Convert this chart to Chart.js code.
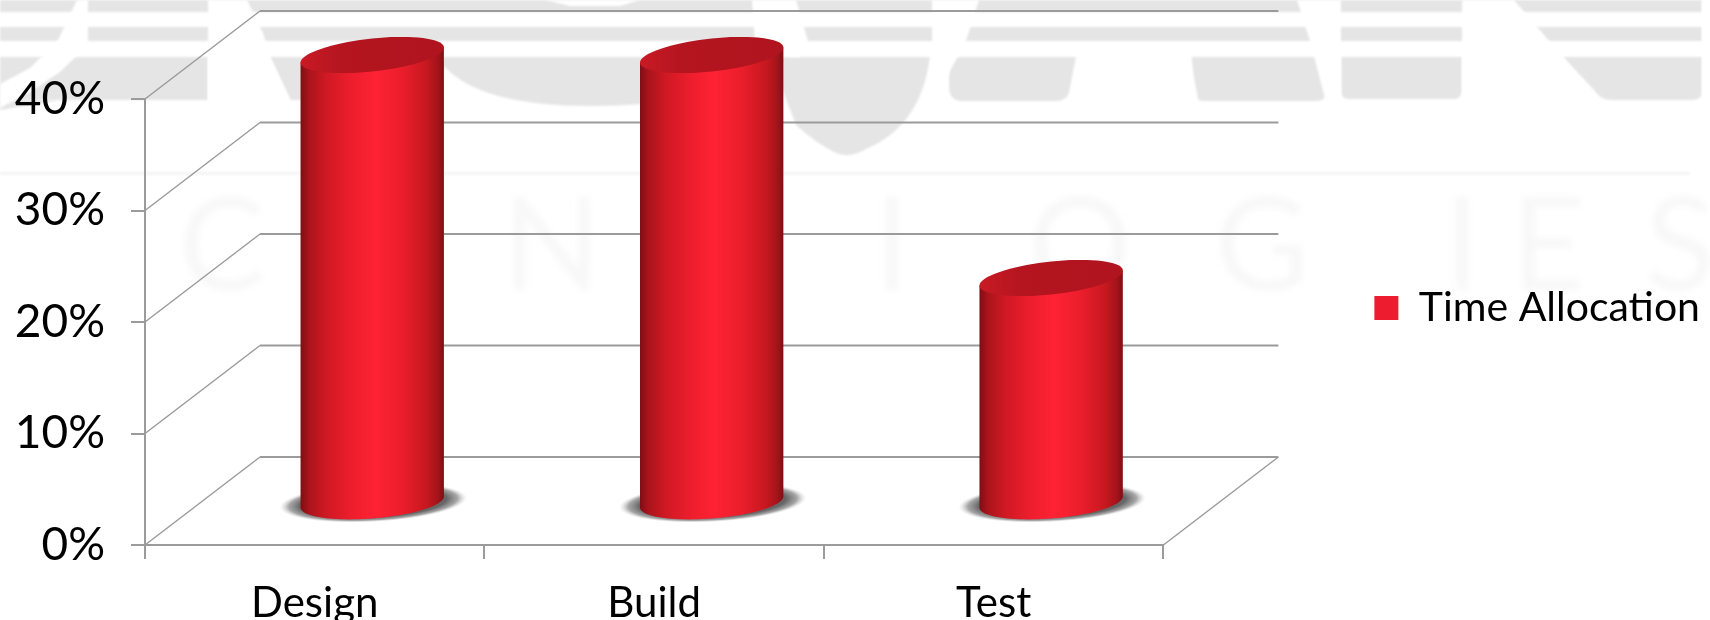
<!DOCTYPE html>
<html>
<head>
<meta charset="utf-8">
<style>html,body{margin:0;padding:0;background:#fff}canvas{display:block}</style>
<script src="https://cdn.jsdelivr.net/npm/chart.js@4/dist/chart.umd.min.js"></script>
</head>
<body>
<canvas id="c" width="1710" height="620"></canvas>
<script>
const categories = ['Design', 'Build', 'Test'];
const seriesName = 'Time Allocation';
const timeAllocation = [40, 40, 20];
const yTicksMax = 40;
const yTickStep = 10;

const LEGEND_RED = '#ED1C2E';
const GRID = '#9b9b9b';
const DEPTH_X = 115, DEPTH_Y = -88;
const FONT = 'Lato, "Open Sans", sans-serif';
const BAND = '#e5e5e5';

function poly(ctx, pts, fill) {
  ctx.fillStyle = fill;
  ctx.beginPath();
  pts.forEach((p, i) => i ? ctx.lineTo(p[0], p[1]) : ctx.moveTo(p[0], p[1]));
  ctx.closePath();
  ctx.fill();
}

function roundedBlock(ctx, x0, x1, x2, bottom, r) {
  ctx.beginPath();
  ctx.moveTo(x0, 57);
  ctx.lineTo(x1, 57);
  ctx.lineTo(x2, bottom - r);
  ctx.quadraticCurveTo(x2 - 1, bottom, x2 - r, bottom);
  ctx.lineTo(x0 + r, bottom);
  ctx.quadraticCurveTo(x0, bottom, x0, bottom - r);
  ctx.closePath();
  ctx.fill();
}

function drawWatermark(ctx) {
  ctx.save();
  ctx.filter = 'blur(0.8px)';
  ctx.fillStyle = BAND;
  ctx.fillRect(0, 0, 1702, 12);
  ctx.fillRect(0, 27, 1702, 14);
  // left block
  ctx.fillRect(0, 57, 208, 43);
  ctx.beginPath();
  ctx.moveTo(0, 100); ctx.lineTo(60, 100); ctx.lineTo(0, 110); ctx.closePath(); ctx.fill();
  // large bowl
  ctx.beginPath();
  ctx.moveTo(270, 57);
  ctx.lineTo(790, 57);
  ctx.lineTo(790, 70);
  ctx.quadraticCurveTo(700, 106, 590, 106);
  ctx.quadraticCurveTo(480, 106, 444, 66);
  ctx.lineTo(440, 100);
  ctx.lineTo(290, 100);
  ctx.closePath();
  ctx.fill();
  // pointed V
  ctx.beginPath();
  ctx.moveTo(770, 57);
  ctx.lineTo(930, 57);
  ctx.quadraticCurveTo(921, 125, 868, 148);
  ctx.quadraticCurveTo(848, 160, 834, 152);
  ctx.quadraticCurveTo(816, 143, 796, 125);
  ctx.closePath();
  ctx.fill();
  // right-hand blocks
  roundedBlock(ctx, 949, 1076, 1070, 101, 14);
  roundedBlock(ctx, 1192, 1322, 1328, 101, 12);
  roundedBlock(ctx, 1341, 1462, 1462, 99, 8);
  ctx.beginPath();
  ctx.moveTo(1563, 57);
  ctx.lineTo(1702, 57);
  ctx.lineTo(1702, 92);
  ctx.quadraticCurveTo(1702, 100, 1692, 100);
  ctx.lineTo(1612, 100);
  ctx.quadraticCurveTo(1600, 100, 1594, 90);
  ctx.closePath();
  ctx.fill();
  // white strokes that cut the bands
  const cuts = [
    [[77,0],[88,0],[88,45],[60,72],[30,92],[0,108],[0,84],[30,68],[58,40]],
    [[208,0],[247,0],[263,33],[270,57],[290,100],[208,110]],
    [[545,0],[640,0],[620,6],[570,6]],
    [[752,0],[796,0],[808,41],[800,57],[770,57],[755,41]],
    [[932,0],[979,0],[966,41],[948,75],[940,110],[925,110],[932,50]],
    [[1297,0],[1341,0],[1341,110],[1328,110],[1310,41]],
    [[1462,0],[1514,0],[1538,28],[1563,57],[1600,104],[1462,104]],
    [[1702,0],[1710,0],[1710,110],[1702,110]]
  ];
  cuts.forEach(c => poly(ctx, c, '#ffffff'));
  // arch of the A
  ctx.fillStyle = '#ffffff';
  ctx.beginPath();
  ctx.moveTo(1072, 110);
  ctx.lineTo(1082, 66);
  ctx.quadraticCurveTo(1086, 53, 1105, 53);
  ctx.lineTo(1170, 53);
  ctx.quadraticCurveTo(1188, 53, 1192, 66);
  ctx.lineTo(1200, 110);
  ctx.closePath();
  ctx.fill();
  // faint rule and word below the logo
  ctx.fillStyle = '#f4f4f4';
  ctx.fillRect(0, 172, 1690, 3);
  ctx.filter = 'blur(3px)';
  ctx.fillStyle = '#f8f8f8';
  ctx.font = '400 130px ' + FONT;
  ctx.textAlign = 'center';
  ctx.textBaseline = 'alphabetic';
  [['C',222],['H',385],['N',552],['O',720],['I',892],['O',1080],['G',1262],['I',1462],['E',1548],['S',1680]]
    .forEach(l => ctx.fillText(l[0], l[1], 290));
  ctx.restore();
}

function drawBackFrame(chart) {
  const ctx = chart.ctx, y = chart.scales.y, a = chart.chartArea;
  ctx.save();
  ctx.strokeStyle = GRID;
  ctx.lineCap = 'butt';
  for (let v = 0; v <= yTicksMax; v += yTickStep) {
    const py = y.getPixelForValue(v);
    ctx.lineWidth = 2;
    ctx.beginPath();
    ctx.moveTo(a.left + DEPTH_X, py + DEPTH_Y);
    ctx.lineTo(a.right + DEPTH_X, py + DEPTH_Y);
    ctx.stroke();
    ctx.lineWidth = 1.5;
    ctx.beginPath();
    ctx.moveTo(a.left, py);
    ctx.lineTo(a.left + DEPTH_X, py + DEPTH_Y);
    ctx.stroke();
  }
  const fy = y.getPixelForValue(0);
  ctx.beginPath();
  ctx.moveTo(a.right, fy);
  ctx.lineTo(a.right + DEPTH_X, fy + DEPTH_Y);
  ctx.stroke();
  ctx.restore();
}

function cylinderPath(ctx, cx, topY, baseY, r) {
  const kTop = 7.5, kBase = 5.5, b = 16.5, n = 48;
  ctx.beginPath();
  ctx.moveTo(cx - r, topY + kTop);
  ctx.lineTo(cx - r, baseY + kBase);
  for (let i = 1; i <= n; i++) {
    const t = Math.PI - Math.PI * i / n;
    ctx.lineTo(cx + r * Math.cos(t), baseY + b * Math.sin(t) - kBase * Math.cos(t));
  }
  ctx.lineTo(cx + r, topY - kTop);
  ctx.closePath();
}

function drawCylinder(ctx, el) {
  const cx = el.x + DEPTH_X / 2, r = el.width / 2;
  const topY = el.y + DEPTH_Y / 2, baseY = el.base + DEPTH_Y / 2 + 2;
  // contact shadow
  ctx.save();
  ctx.translate(cx + 1, baseY + 0.5);
  ctx.transform(1, -0.05, 0, 19.5 / (r + 22), 0, 0);
  const sh = ctx.createRadialGradient(0, 0, 0, 0, 0, r + 22);
  sh.addColorStop(0, '#5e5e5e');
  sh.addColorStop(0.78, '#666666');
  sh.addColorStop(0.9, 'rgba(120,120,120,0.65)');
  sh.addColorStop(1, 'rgba(200,200,200,0)');
  ctx.fillStyle = sh;
  ctx.beginPath();
  ctx.arc(0, 0, r + 22, 0, Math.PI * 2);
  ctx.fill();
  ctx.restore();
  // body
  const g = ctx.createLinearGradient(cx - r, 0, cx + r, 0);
  g.addColorStop(0, '#7f0e15');
  g.addColorStop(0.06, '#ab141c');
  g.addColorStop(0.18, '#cf1923');
  g.addColorStop(0.36, '#ee1e2d');
  g.addColorStop(0.52, '#fe2234');
  g.addColorStop(0.7, '#ec1e2c');
  g.addColorStop(0.88, '#c6181f');
  g.addColorStop(0.96, '#a3131a');
  g.addColorStop(1, '#7f0e15');
  cylinderPath(ctx, cx, topY, baseY, r);
  ctx.fillStyle = g;
  ctx.fill();
  // top cap
  const cap = ctx.createLinearGradient(cx - r, 0, cx + r, 0);
  cap.addColorStop(0, '#c81a25');
  cap.addColorStop(0.3, '#b4151f');
  cap.addColorStop(1, '#b0141e');
  const b = 16.5, k = 7.5, n = 72;
  ctx.beginPath();
  for (let i = 0; i <= n; i++) {
    const t = 2 * Math.PI * i / n;
    const px = cx + r * Math.cos(t), py = topY + b * Math.sin(t) - k * Math.cos(t);
    i ? ctx.lineTo(px, py) : ctx.moveTo(px, py);
  }
  ctx.closePath();
  ctx.fillStyle = cap;
  ctx.fill();
}

const scene3d = {
  id: 'scene3d',
  beforeDraw(chart) {
    drawWatermark(chart.ctx);
    drawBackFrame(chart);
  },
  afterLayout(chart) {
    // legend sits a little above the canvas centre in the reference
    chart.legend.top -= 2;
    chart.legend.bottom -= 2;
  },
  beforeDatasetDraw(chart, args) {
    const ctx = chart.ctx;
    ctx.save();
    args.meta.data.forEach(el => drawCylinder(ctx, el));
    ctx.restore();
    return false;
  }
};

new Chart(document.getElementById('c'), {
  type: 'bar',
  data: {
    labels: categories,
    datasets: [{
      label: seriesName,
      data: timeAllocation,
      backgroundColor: LEGEND_RED,
      categoryPercentage: 1,
      barPercentage: 0.4223
    }]
  },
  plugins: [scene3d],
  options: {
    responsive: false,
    animation: false,
    plugins: {
      title: { display: false },
      tooltip: { enabled: false },
      legend: {
        position: 'right',
        maxWidth: 400,
        labels: {
          boxWidth: 24,
          boxHeight: 24,
          padding: 10,
          color: '#000',
          font: { family: FONT, size: 41 }
        }
      }
    },
    scales: {
      x: {
        grid: { drawOnChartArea: false, drawTicks: true, color: GRID, lineWidth: 2, tickLength: 14 },
        border: { color: GRID, width: 2 },
        ticks: { color: '#000', padding: 19, maxRotation: 0, font: { family: FONT, size: 42 } },
        afterFit(s) { s.height = 75; }
      },
      y: {
        min: 0,
        max: yTicksMax,
        grid: { drawOnChartArea: false, drawTicks: true, color: GRID, lineWidth: 2, tickLength: 14 },
        border: { color: GRID, width: 2 },
        ticks: {
          stepSize: yTickStep,
          color: '#000',
          padding: 26,
          font: { family: FONT, size: 46 },
          callback: v => v + '%'
        },
        afterFit(s) { s.width = 145; s.paddingTop = 99; }
      },
      gutter: {
        type: 'linear',
        position: 'right',
        min: 0,
        max: 1,
        grid: { display: false },
        border: { display: false },
        ticks: { display: false },
        afterFit(s) { s.width = 201; s.paddingTop = 99; }
      }
    }
  }
});
</script>
</body>
</html>
